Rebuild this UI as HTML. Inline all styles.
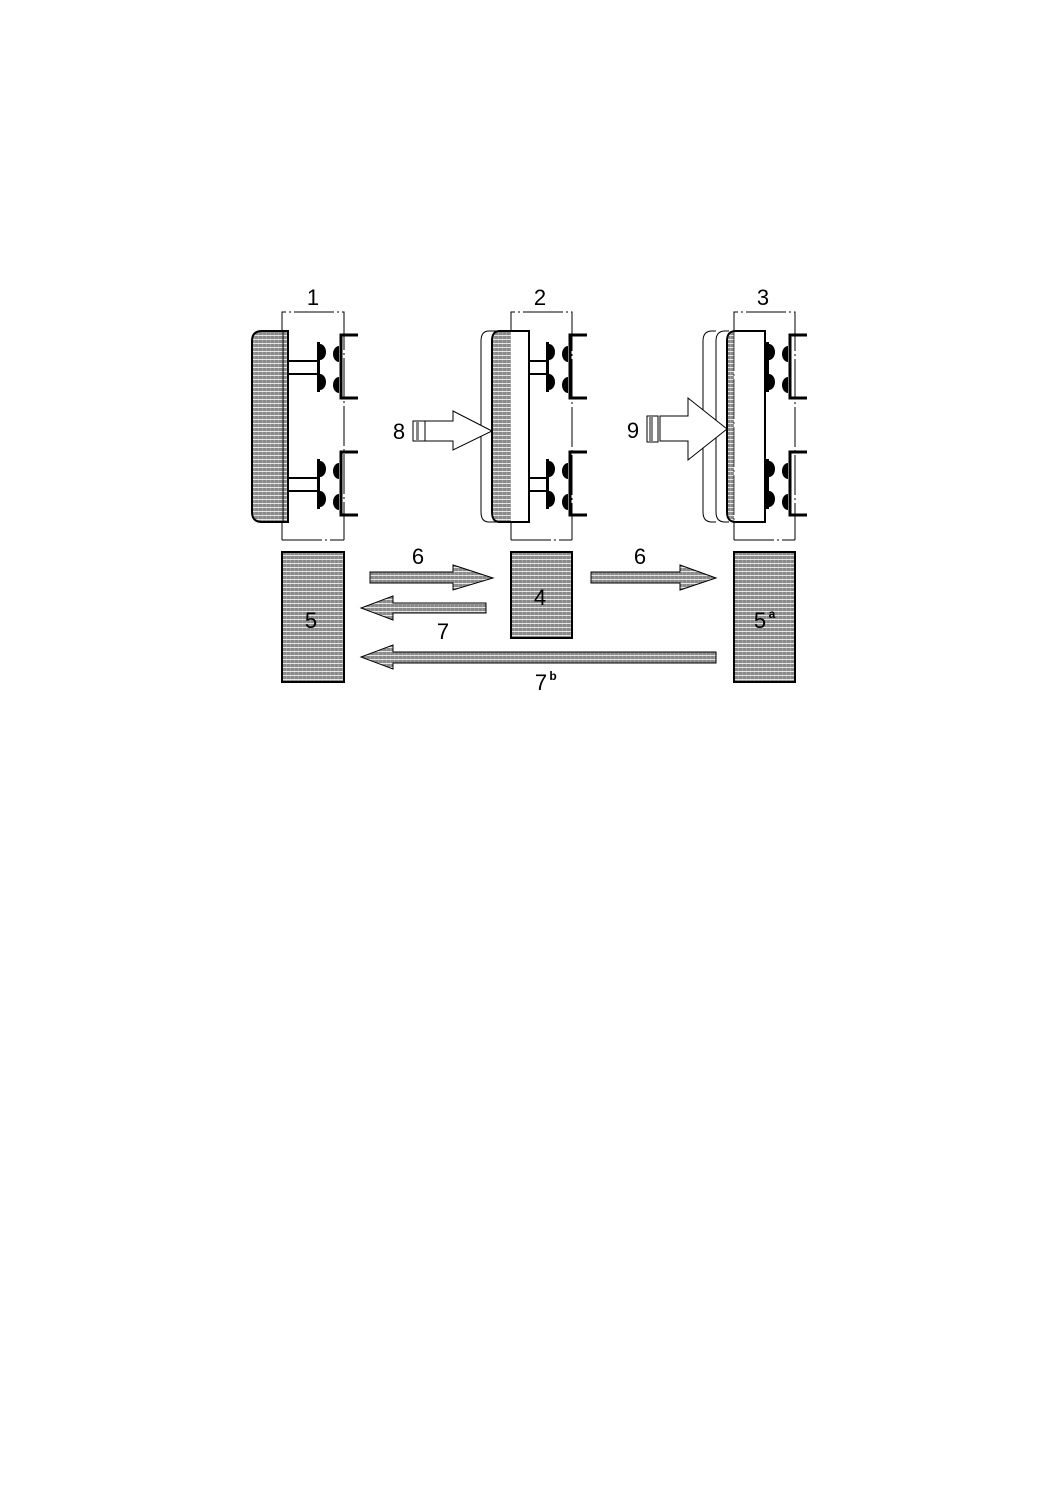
<!DOCTYPE html>
<html><head><meta charset="utf-8"><style>html,body{margin:0;padding:0;background:#fff}svg{display:block}</style></head><body>
<svg width="1058" height="1497" viewBox="0 0 1058 1497" xmlns="http://www.w3.org/2000/svg" font-family="Liberation Sans, sans-serif">
<defs>
<pattern id="h" width="4" height="4" patternUnits="userSpaceOnUse"><rect width="4" height="4" fill="#8a8a8a"/><rect y="3" width="4" height="1" fill="#e6e6e6"/><rect x="2" y="0" width="1" height="3" fill="#a0a0a0"/></pattern>
<g id="mech">
<line x1="0" y1="0" x2="29" y2="0" stroke="#000" stroke-width="2"/>
<line x1="0" y1="13" x2="29" y2="13" stroke="#000" stroke-width="2"/>
<rect x="28" y="-19" width="3" height="50" fill="#000"/>
<path d="M31,-17 a6,8 0 0 1 0,16 z" fill="#000"/>
<path d="M31,13 a6,8 0 0 1 0,16 z" fill="#000"/>
<path d="M50,-15 a6,8 0 0 0 0,16 z" fill="#000"/>
<path d="M50,16 a6,8 0 0 0 0,16 z" fill="#000"/>
<path d="M69,-26 H52 V37 H69" fill="none" stroke="#000" stroke-width="3"/>
</g>
</defs>
<g stroke="#000" stroke-width="1" fill="none">
<path d="M282,540 V312 H344 V540 M282,540 H344" stroke-dasharray="40,3,2,3"/>
<path d="M511,540 V312 H572 V540 M511,540 H572" stroke-dasharray="40,3,2,3"/>
<path d="M734,540 V312 H795 V540 M734,540 H795" stroke-dasharray="40,3,2,3"/>
</g>
<g font-size="22" text-anchor="middle" fill="#000">
<text x="313" y="305">1</text><text x="540" y="305">2</text><text x="763" y="305">3</text>
<text x="399" y="439">8</text><text x="633" y="438">9</text>
<text x="418" y="564">6</text><text x="640" y="564">6</text>
<text x="443" y="639">7</text><text x="541" y="690">7</text><text x="553" y="680" font-size="12" font-weight="bold">b</text>
</g>
<path d="M288,331 H262 Q252,331 252,341 V512 Q252,522 262,522 H288 Z" fill="url(#h)" stroke="#000" stroke-width="2"/>
<line x1="283" y1="331" x2="283" y2="522" stroke="#000" stroke-width="1"/>
<use href="#mech" x="289" y="361"/>
<use href="#mech" x="289" y="478"/>
<path d="M500,331 H489 Q481,331 481,341 V512 Q481,522 489,522 H500" fill="none" stroke="#000" stroke-width="1"/>
<path d="M529,331 H500 Q492,331 492,341 V512 Q492,522 500,522 H529 Z" fill="#fff" stroke="#000" stroke-width="2"/>
<path d="M511,332 H500 Q493,332 493,341 V512 Q493,521 500,521 H511 Z" fill="url(#h)"/>
<use href="#mech" x="518" y="361"/>
<use href="#mech" x="518" y="478"/>
<rect x="517" y="335" width="12" height="185" fill="#fff"/>
<path d="M529,331 V522" stroke="#000" stroke-width="2"/>
<path d="M425,421 H453 V411 L492,431 L453,450 V441 H425 Z" fill="#fff" stroke="#000" stroke-width="1"/>
<rect x="413" y="421" width="12" height="20" fill="#fff" stroke="#000"/><rect x="416" y="422" width="3" height="18" fill="#888"/>
<path d="M716,331 H712 Q703,331 703,341 V512 Q703,522 712,522 H716" fill="none" stroke="#000" stroke-width="1"/>
<path d="M729,331 H725 Q716,331 716,341 V512 Q716,522 725,522 H729" fill="none" stroke="#000" stroke-width="1"/>
<path d="M765,331 H736 Q727,331 727,341 V512 Q727,522 736,522 H765 Z" fill="#fff" stroke="#000" stroke-width="2"/>
<path d="M734,332 Q728,333 728,341 V512 Q728,520 734,521 Z" fill="url(#h)"/>
<line x1="734" y1="331" x2="734" y2="522" stroke="#000" stroke-width="0.7" stroke-dasharray="40,3,2,3"/>
<use href="#mech" x="738" y="361"/>
<use href="#mech" x="738" y="478"/>
<rect x="736" y="335" width="29" height="185" fill="#fff"/>
<path d="M765,331 V522" stroke="#000" stroke-width="2"/>
<path d="M660,416 H688 V398 L727,429 L688,460 V441 H660 Z" fill="#fff" stroke="#000" stroke-width="1"/>
<rect x="647" y="416" width="11" height="26" fill="#fff" stroke="#000"/><rect x="649" y="417" width="4" height="24" fill="#888"/>
<rect x="282" y="552" width="62" height="130" fill="url(#h)" stroke="#000" stroke-width="2"/>
<rect x="511" y="552" width="61" height="86" fill="url(#h)" stroke="#000" stroke-width="2"/>
<rect x="734" y="552" width="61" height="130" fill="url(#h)" stroke="#000" stroke-width="2"/>
<g font-size="22" text-anchor="middle" fill="#000">
<text x="311" y="628">5</text><text x="540" y="605">4</text><text x="760" y="628">5</text><text x="772" y="618" font-size="12" font-weight="bold">a</text>
</g>
<g fill="url(#h)" stroke="#000" stroke-width="1">
<path d="M370,572 H453 V565 L493,578 L453,590 V583 H370 Z"/>
<path d="M591,572 H680 V565 L716,578 L680,590 V583 H591 Z"/>
<path d="M486,603 H393 V596 L361,608 L393,620 V613 H486 Z"/>
<path d="M716,652 H393 V645 L361,657 L393,669 V663 H716 Z"/>
</g>
</svg>
</body></html>
